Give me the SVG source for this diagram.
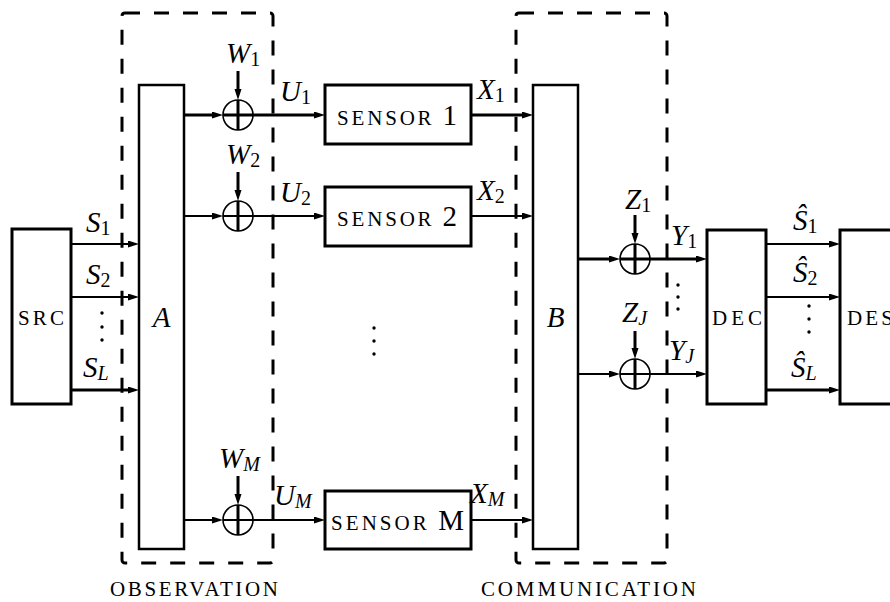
<svg xmlns="http://www.w3.org/2000/svg" width="890" height="602" viewBox="0 0 890 602">
<style>
.box{fill:#fff;stroke:#000;stroke-width:3}
.thin{fill:#fff;stroke:#000;stroke-width:2.5}
.dash{fill:none;stroke:#000;stroke-width:3;stroke-dasharray:15 14}
.c{fill:none;stroke:#000;stroke-width:1.6}
.l2{fill:none;stroke:#000;stroke-width:2;marker-end:url(#ah)}
.l3{fill:none;stroke:#000;stroke-width:3;marker-end:url(#ah)}
.p3{fill:none;stroke:#000;stroke-width:3}
text{font-family:'Liberation Serif','Times New Roman',serif;fill:#000}
.m{font-style:italic;font-size:29px}
.rm{font-style:normal;font-size:29px}
.sub{font-size:20px;font-style:normal}
.subi{font-size:20px;font-style:italic}
.sc{font-size:21px;font-style:normal}
.dot{fill:#000}
</style>
<defs>
<marker id="ah" markerUnits="userSpaceOnUse" markerWidth="12" markerHeight="8" refX="5" refY="3.5" orient="auto">
<path d="M0,0 L11,3.5 L0,7 Z" fill="#000"/>
</marker>
</defs>

<g id="observation-region">
<rect class="dash" x="122" y="13" width="151" height="550" rx="3"/>
<text class="sc" x="110" y="596" textLength="168" lengthAdjust="spacing">OBSERVATION</text>
</g>
<g id="communication-region">
<rect class="dash" x="516" y="13" width="151" height="550" rx="3"/>
<text class="sc" x="481" y="596" textLength="215" lengthAdjust="spacing">COMMUNICATION</text>
</g>

<g id="connectors">
<path class="l2" d="M72,244 H133"/>
<path class="l2" d="M72,297 H133"/>
<path class="l3" d="M72,390 H133"/>
<path class="l3" d="M184,115 H217"/>
<path class="l3" d="M223,115 H319"/>
<path class="l2" d="M184,216 H217"/>
<path class="l2" d="M223,216 H319"/>
<path class="l2" d="M184,520 H217"/>
<path class="l2" d="M223,520 H319"/>
<path class="l3" d="M238,71 V94"/>
<path class="l3" d="M238,172 V195"/>
<path class="l3" d="M238,476 V499"/>
<path class="l3" d="M471,115 H527"/>
<path class="l2" d="M471,216 H527"/>
<path class="l2" d="M471,520 H527"/>
<path class="l3" d="M578,259 H614"/>
<path class="l3" d="M620,259 H701"/>
<path class="l2" d="M578,374 H614"/>
<path class="l2" d="M620,374 H701"/>
<path class="l3" d="M635,215 V238"/>
<path class="l3" d="M635,331 V353"/>
<path class="l2" d="M766,244 H834"/>
<path class="l2" d="M766,297 H834"/>
<path class="l3" d="M766,390 H834"/>
</g>

<g id="src">
<rect class="box" x="12" y="229" width="59" height="175"/>
<text class="sc" x="18" y="325" textLength="46" lengthAdjust="spacing">SRC</text>
</g>
<g id="A">
<rect class="thin" x="139" y="85" width="45" height="464"/>
<text class="m" x="161.5" y="327" text-anchor="middle">A</text>
</g>
<g id="sum-w1">
<circle class="c" cx="238" cy="115" r="15"/>
<path class="p3" d="M238,100 V130"/>
</g>
<g id="sum-w2">
<circle class="c" cx="238" cy="216" r="15"/>
<path class="p3" d="M238,201 V231"/>
</g>
<g id="sum-wm">
<circle class="c" cx="238" cy="520" r="15"/>
<path class="p3" d="M238,505 V535"/>
</g>
<g id="sensor1">
<rect class="box" x="325" y="85" width="146" height="59"/>
<text x="337" y="125" textLength="120" lengthAdjust="spacing"><tspan class="sc">SENSOR </tspan><tspan class="rm">1</tspan></text>
</g>
<g id="sensor2">
<rect class="box" x="325" y="187" width="146" height="59"/>
<text x="337" y="226" textLength="120" lengthAdjust="spacing"><tspan class="sc">SENSOR </tspan><tspan class="rm">2</tspan></text>
</g>
<g id="sensorM">
<rect class="box" x="325" y="491" width="146" height="58"/>
<text x="331" y="530" textLength="133" lengthAdjust="spacing"><tspan class="sc">SENSOR </tspan><tspan class="rm">M</tspan></text>
</g>
<g id="B">
<rect class="thin" x="533" y="85" width="45" height="464"/>
<text class="m" x="555.5" y="327" text-anchor="middle">B</text>
</g>
<g id="sum-z1">
<circle class="c" cx="635" cy="259" r="15"/>
<path class="p3" d="M635,244 V274"/>
</g>
<g id="sum-zj">
<circle class="c" cx="635" cy="374" r="15"/>
<path class="p3" d="M635,359 V389"/>
</g>
<g id="dec">
<rect class="box" x="707" y="230" width="59" height="174"/>
<text class="sc" x="712" y="325" textLength="50" lengthAdjust="spacing">DEC</text>
</g>
<g id="des">
<rect class="box" x="840" y="230" width="70" height="174"/>
<text class="sc" x="847" y="325" textLength="46" lengthAdjust="spacing">DES</text>
</g>

<g id="labels">
<text class="m" x="226" y="63">W<tspan class="sub" dy="3">1</tspan></text>
<text class="m" x="226" y="164">W<tspan class="sub" dy="3">2</tspan></text>
<text class="m" x="219" y="468">W<tspan class="subi" dy="3">M</tspan></text>
<text class="m" x="280" y="101">U<tspan class="sub" dy="3">1</tspan></text>
<text class="m" x="280" y="202">U<tspan class="sub" dy="3">2</tspan></text>
<text class="m" x="274" y="505">U<tspan class="subi" dy="3">M</tspan></text>
<text class="m" x="477" y="99">X<tspan class="sub" dy="3">1</tspan></text>
<text class="m" x="477" y="200">X<tspan class="sub" dy="3">2</tspan></text>
<text class="m" x="470" y="503">X<tspan class="subi" dy="3">M</tspan></text>
<text class="m" x="625" y="209">Z<tspan class="sub" dy="3">1</tspan></text>
<text class="m" x="622" y="322">Z<tspan class="subi" dy="3">J</tspan></text>
<text class="m" x="671" y="245">Y<tspan class="sub" dy="3">1</tspan></text>
<text class="m" x="669" y="360">Y<tspan class="subi" dy="3">J</tspan></text>
<text class="m" x="86" y="232">S<tspan class="sub" dy="3">1</tspan></text>
<text class="m" x="86" y="284">S<tspan class="sub" dy="3">2</tspan></text>
<text class="m" x="83" y="377">S<tspan class="subi" dy="3">L</tspan></text>
<text class="m" x="793" y="230">Ŝ<tspan class="sub" dy="3">1</tspan></text>
<text class="m" x="793" y="282">Ŝ<tspan class="sub" dy="3">2</tspan></text>
<text class="m" x="791" y="377">Ŝ<tspan class="subi" dy="3">L</tspan></text>
</g>

<g id="vdots">
<circle class="dot" cx="102" cy="313" r="1.7"/><circle class="dot" cx="102" cy="327" r="1.7"/><circle class="dot" cx="102" cy="340" r="1.7"/>
<circle class="dot" cx="374" cy="328" r="1.7"/><circle class="dot" cx="374" cy="341" r="1.7"/><circle class="dot" cx="374" cy="354" r="1.7"/>
<circle class="dot" cx="678" cy="285" r="1.7"/><circle class="dot" cx="678" cy="297" r="1.7"/><circle class="dot" cx="678" cy="309" r="1.7"/>
<circle class="dot" cx="809" cy="306" r="1.7"/><circle class="dot" cx="809" cy="319" r="1.7"/><circle class="dot" cx="809" cy="332" r="1.7"/>
</g>
</svg>
